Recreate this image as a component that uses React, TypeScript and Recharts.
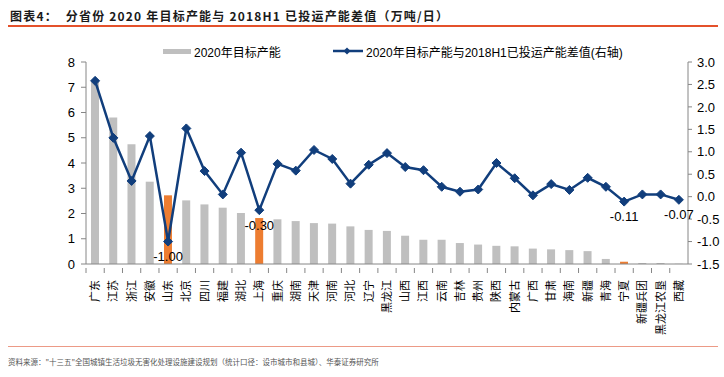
import React from "react";
import {
  ComposedChart,
  Bar,
  Line,
  Cell,
  XAxis,
  YAxis,
  LabelList,
} from "recharts";

const provinces = [
  "广东", "江苏", "浙江", "安徽", "山东", "北京", "四川", "福建", "湖北", "上海", "重庆",
  "湖南", "天津", "河南", "河北", "辽宁", "黑龙江", "山西", "江西", "云南", "吉林", "贵州",
  "陕西", "内蒙古", "广西", "甘肃", "海南", "新疆", "青海", "宁夏", "新疆兵团", "黑龙江农垦", "西藏",
];

// 2020年目标产能 (万吨/日, left axis)
const targetCapacity = [
  7.25, 5.8, 4.74, 3.26, 2.72, 2.52, 2.36, 2.23, 2.02, 1.82, 1.77,
  1.7, 1.62, 1.6, 1.49, 1.35, 1.31, 1.12, 0.96, 0.96, 0.83, 0.77,
  0.72, 0.7, 0.61, 0.58, 0.55, 0.51, 0.2, 0.09, 0.04, 0.04, 0.01,
];

// 差值 (right axis)
const capacityGap = [
  2.58, 1.31, 0.35, 1.35, -1.0, 1.52, 0.57, 0.05, 0.98, -0.3, 0.73,
  0.58, 1.04, 0.84, 0.29, 0.71, 0.97, 0.66, 0.59, 0.22, 0.11, 0.16,
  0.75, 0.41, 0.03, 0.28, 0.15, 0.42, 0.22, -0.11, 0.05, 0.05, -0.07,
];

const highlighted = ["山东", "上海", "宁夏"];

const leftTicks = [0, 1, 2, 3, 4, 5, 6, 7, 8];
const rightTicks = [-1.5, -1, -0.5, 0, 0.5, 1, 1.5, 2, 2.5, 3];

const GRAY = "#BFBFBF";
const ORANGE = "#ED7D31";
const NAVY = "#113E7C";
const AXIS = "#868686";
const NUM_FONT = "'Liberation Sans', Arial, 'Noto Sans CJK SC', sans-serif";
const CJK_FONT = "'Noto Sans CJK SC', sans-serif";

const data = provinces.map((name, i) => ({
  name,
  target: targetCapacity[i],
  gap: capacityGap[i],
}));

function Diamond(props: any) {
  const { cx, cy } = props;
  if (cx == null || cy == null) return null;
  const r = 4.5;
  return (
    <polygon
      points={`${cx},${cy - r} ${cx + r},${cy} ${cx},${cy + r} ${cx - r},${cy}`}
      fill={NAVY}
      stroke={NAVY}
    />
  );
}

function ProvinceTick(props: any) {
  const { x, y, payload } = props;
  const half = payload && payload.offset ? payload.offset : 9.1;
  return (
    <g>
      <line x1={x - half} y1={y - 4} x2={x - half} y2={y + 1} stroke={AXIS} />
      <text
        transform={`translate(${x},${y + 8}) rotate(-90)`}
        textAnchor="end"
        dy="0.36em"
        fontSize={11}
        fontFamily={CJK_FONT}
        fill="#000"
      >
        {payload.value}
      </text>
    </g>
  );
}

function GapLabel(props: any) {
  const { x, y, value } = props;
  if (value == null || value >= 0) return null;
  return (
    <text
      x={x}
      y={y + 16}
      textAnchor="middle"
      dominantBaseline="middle"
      fontSize={13}
      fontFamily={NUM_FONT}
      fill="#000"
    >
      {Number(value).toFixed(2)}
    </text>
  );
}

export default function App() {
  return (
    <div
      style={{
        position: "absolute",
        left: 0,
        top: 0,
        width: 724,
        height: 377,
        background: "#fff",
        overflow: "hidden",
      }}
    >
      <div
        style={{
          position: "absolute",
          left: 10,
          top: 8,
          fontFamily: CJK_FONT,
          fontWeight: 700,
          fontSize: 12,
          letterSpacing: 1.2,
          color: "#1a1a1a",
          whiteSpace: "pre",
          lineHeight: "16px",
        }}
      >
        {"图表4：  分省份 2020 年目标产能与 2018H1 已投运产能差值（万吨/日）"}
      </div>
      <div
        style={{
          position: "absolute",
          left: 8,
          top: 25,
          width: 710,
          height: 2,
          background: "#E4512B",
        }}
      />

      <ComposedChart
        width={724}
        height={377}
        data={data}
        margin={{ top: 62, right: 0, bottom: 30, left: 36 }}
        style={{ position: "absolute", left: 0, top: 0 }}
      >
        <XAxis
          dataKey="name"
          xAxisId="x"
          interval={0}
          height={83}
          axisLine={{ stroke: AXIS }}
          tickLine={false}
          tick={<ProvinceTick />}
        />
        <YAxis
          yAxisId="left"
          orientation="left"
          domain={[0, 8]}
          ticks={leftTicks}
          width={50}
          axisLine={{ stroke: AXIS }}
          tickLine={{ stroke: AXIS }}
          tickSize={5}
          tickMargin={6}
          tick={{ fontSize: 13, fill: "#000", fontFamily: NUM_FONT }}
        />
        <YAxis
          yAxisId="right"
          orientation="right"
          domain={[-1.5, 3]}
          ticks={rightTicks}
          width={36}
          axisLine={{ stroke: AXIS }}
          tickLine={{ stroke: AXIS }}
          tickSize={4}
          tickMargin={5}
          tickFormatter={(v: number) => v.toFixed(1)}
          tick={{ fontSize: 13, fill: "#000", fontFamily: NUM_FONT }}
        />
        <Bar
          dataKey="target"
          xAxisId="x"
          yAxisId="left"
          barSize={8}
          isAnimationActive={false}
        >
          {data.map((d) => (
            <Cell
              key={d.name}
              fill={highlighted.includes(d.name) ? ORANGE : GRAY}
            />
          ))}
        </Bar>
        <Line
          dataKey="gap"
          xAxisId="x"
          yAxisId="right"
          type="linear"
          stroke={NAVY}
          strokeWidth={2.5}
          dot={<Diamond />}
          activeDot={false}
          isAnimationActive={false}
        >
          <LabelList dataKey="gap" content={<GapLabel />} />
        </Line>
      </ComposedChart>

      {/* legend */}
      <div
        style={{
          position: "absolute",
          left: 163,
          top: 43,
          height: 16,
          display: "flex",
          alignItems: "center",
          fontFamily: NUM_FONT,
          fontSize: 12,
          color: "#000",
          whiteSpace: "pre",
        }}
      >
        <span style={{ display: "inline-block", width: 28, height: 5, background: GRAY, marginRight: 3 }} />
        <span>2020年目标产能</span>
      </div>
      <div
        style={{
          position: "absolute",
          left: 333,
          top: 43,
          height: 16,
          display: "flex",
          alignItems: "center",
          fontFamily: NUM_FONT,
          fontSize: 12,
          color: "#000",
          whiteSpace: "pre",
        }}
      >
        <svg width={30} height={10} style={{ marginRight: 3 }}>
          <line x1={0} y1={5} x2={30} y2={5} stroke={NAVY} strokeWidth={2.5} />
          <polygon points="14,1.5 17.5,5 14,8.5 10.5,5" fill={NAVY} />
        </svg>
        <span>2020年目标产能与2018H1已投运产能差值(右轴)</span>
      </div>

      <div
        style={{
          position: "absolute",
          left: 8,
          top: 346,
          width: 710,
          height: 1,
          background: "#EC9A86",
        }}
      />
      <div
        style={{
          position: "absolute",
          left: 8,
          top: 356,
          fontFamily: CJK_FONT,
          fontSize: 7.5,
          color: "#555",
          whiteSpace: "pre",
          lineHeight: "12px",
        }}
      >
        {"资料来源：\"十三五\"全国城镇生活垃圾无害化处理设施建设规划（统计口径：设市城市和县城）、华泰证券研究所"}
      </div>
    </div>
  );
}
